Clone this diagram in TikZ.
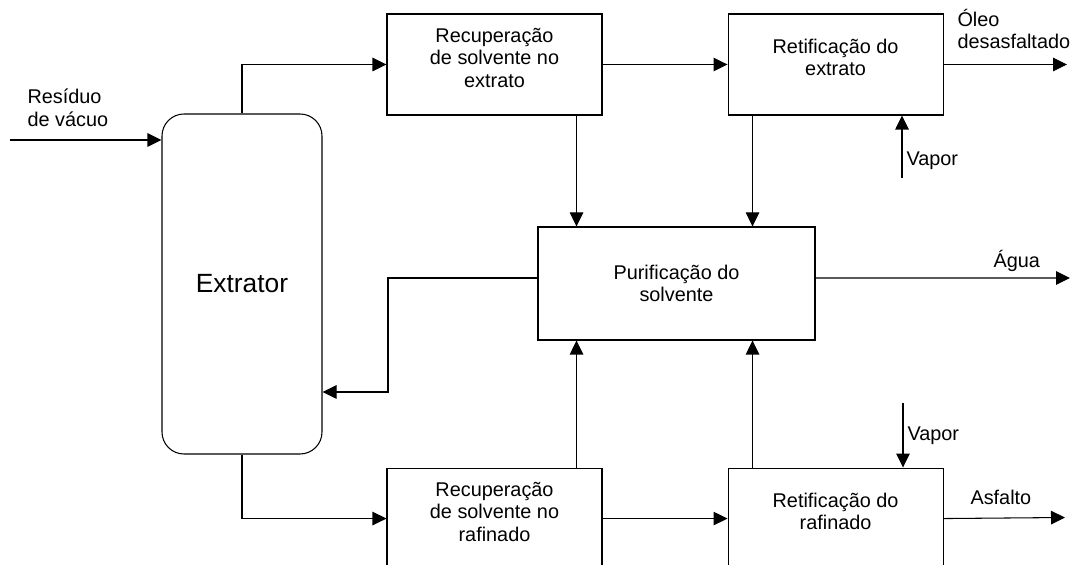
\documentclass[tikz,border=0pt]{standalone}
\usepackage{fontspec}
\setmainfont{Liberation Sans}
\usetikzlibrary{positioning,arrows.meta,calc}
\tikzset{
	flowsheet/.style={>={Triangle[length=0.28cm,width=0.27cm]},semithick,
		font=\fontsize{11.3}{12.8}\selectfont},
	unit/.style={rectangle,draw,align=center,minimum width=4.3cm,minimum height=2.02cm,text depth=8pt},
	purifier/.style={rectangle,draw,align=center,minimum width=5.54cm,minimum height=2.26cm},
	vessel/.style={rectangle,draw,rounded corners=0.44cm,minimum width=3.2cm,minimum height=6.8cm,
		font=\fontsize{15}{18}\selectfont},
	stream/.style={inner sep=0pt,align=left}
}

\begin{document}
\begin{tikzpicture}[flowsheet]
	\useasboundingbox (0,0) rectangle (21.42,-11.3);
	\clip (0,0) rectangle (21.42,-11.3);
	
	\node[vessel] (extr) at (4.84,-5.68) {Extrator};
	\node[unit] (recext) at (9.89,-1.29) {Recuperação\\de solvente no\\extrato};
	\node[unit] (retext) [right=2.5cm of recext] {Retificação do\\extrato};
	\node[purifier] (purif) at (13.53,-5.67) {Purificação do\\solvente};
	\node[unit] (recraf) [below=7.04cm of recext] {Recuperação\\de solvente no\\rafinado};
	\node[unit] (retraf) [right=2.5cm of recraf] {Retificação do\\rafinado};
	
	\coordinate (feed) at (0.2,-2.8);
	\coordinate (oleo) at (21.34,-1.29);
	\coordinate (agua) at (21.4,-5.56);
	\coordinate (asf) at (21.3,-10.35);
	\coordinate (vapext) at (18.04,-3.56);
	\coordinate (vapraf) at (18.06,-8.06);
	\coordinate (back) at (7.76,-7.84);
	\coordinate (d1) at ([xshift=-0.52cm]recext.south east);
	\coordinate (d2) at ([xshift=0.5cm]retext.south west);
	\coordinate (u1) at ([xshift=-0.52cm]recraf.north east);
	\coordinate (u2) at ([xshift=0.5cm]retraf.north west);
	
	\node[stream,anchor=south west] (residuo) at (0.54,-2.54) {Resíduo\\de vácuo};
	\node[stream,anchor=south west] (oleotxt) at (19.14,-0.99) {Óleo\\desasfaltado};
	\node[stream,anchor=base west] (vaptxt1) at (18.12,-3.32) {Vapor};
	\node[stream,anchor=base west] (aguatxt) at (19.86,-5.36) {Água};
	\node[stream,anchor=base west] (vaptxt2) at (18.14,-8.82) {Vapor};
	\node[stream,anchor=base west] (asftxt) at (19.4,-10.1) {Asfalto};
	
	\draw[->] (feed) -- (feed -| extr.west);
	\draw[->] (extr.north) |- (recext.west);
	\draw[->] (recext.east) -- (retext.west);
	\draw[->] (retext.east) -- (oleo);
	\draw[->] (d1) -- (d1 |- purif.north);
	\draw[->] (d2) -- (d2 |- purif.north);
	\draw[->] (vapext) -- (vapext |- retext.south);
	\draw[->] ([yshift=0.11cm]purif.west) -| (back) -- (back -| extr.east);
	\draw[->] ([yshift=0.11cm]purif.east) -- (agua);
	\draw[->] (extr.south) |- (recraf.west);
	\draw[->] (recraf.east) -- (retraf.west);
	\draw[->] (retraf.east) -- (asf);
	\draw[->] (u1) -- (u1 |- purif.south);
	\draw[->] (u2) -- (u2 |- purif.south);
	\draw[->] (vapraf) -- (vapraf |- retraf.north);
	
\end{tikzpicture}
\end{document}
